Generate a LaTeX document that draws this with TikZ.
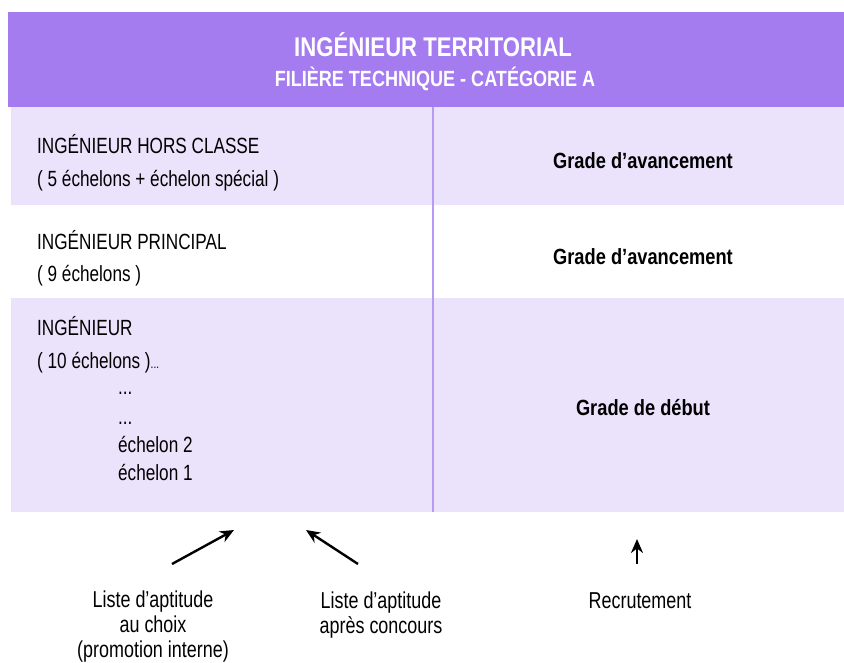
\documentclass[tikz,border=0pt]{standalone}
\usepackage{fontspec}
\setmainfont{Liberation Sans}[FakeStretch=0.78, BoldFeatures={FakeStretch=0.83}]
\newfontfamily\headfont{Liberation Sans}[FakeStretch=0.82]
\usetikzlibrary{arrows.meta}
\definecolor{headviolet}{HTML}{A57BF0}
\definecolor{lavande}{HTML}{EBE3FC}
\definecolor{trait}{HTML}{B99AF2}
\begin{document}
\begin{tikzpicture}[x=1pt, y=-1pt,
    every node/.style={inner sep=0pt, font=\fontsize{22}{32}\selectfont},
    txt/.style={anchor=base west},
    grade/.style={font=\fontsize{22}{32}\selectfont\bfseries},
    lab/.style={anchor=base, align=center, font=\fontsize{23}{25}\selectfont},
    fleche/.style={-{Stealth[length=14pt,width=12pt]}, line width=2.4pt}]
  \useasboundingbox (0,0) rectangle (844,662);
  % bandeau et lignes du tableau
  \fill[headviolet] (8,12) rectangle (844,107);
  \fill[lavande] (11,107) rectangle (844,205);
  \fill[lavande] (11,298) rectangle (844,512);
  \draw[trait, line width=2pt] (433,107) -- (433,512);
  \node[text=white, font=\headfont\fontsize{27}{30}\selectfont\bfseries] (titre) at (433,45) {INGÉNIEUR TERRITORIAL};
  \node[text=white, font=\headfont\fontsize{22}{24}\selectfont\bfseries] (filiere) at (435,79) {FILIÈRE TECHNIQUE - CATÉGORIE A};
  % grades
  \node[txt] (hc) at (37,153) {INGÉNIEUR HORS CLASSE};
  \node[txt] (hcech) at (37,186) {( 5 échelons + échelon spécial )};
  \node[txt] (pr) at (37,249) {INGÉNIEUR PRINCIPAL};
  \node[txt] (prech) at (37,281) {( 9 échelons )};
  \node[txt] (ing) at (37,335) {INGÉNIEUR};
  \node[txt] (ingech) at (37,368) {( 10 échelons )\fontsize{13}{13}\selectfont...};
  \node[txt] (pts1) at (118,394) {...};
  \node[txt] (pts2) at (118,424) {...};
  \node[txt] (ech2) at (118,452) {échelon 2};
  \node[txt] (ech1) at (118,480) {échelon 1};
  \node[grade] (avhc) at (643,161) {Grade d’avancement};
  \node[grade] (avpr) at (643,257) {Grade d’avancement};
  \node[grade] (debut) at (643,408) {Grade de début};
  % voies d'acces
  \node[lab] (choix) at (153,657) {Liste d’aptitude\\au choix\\(promotion interne)};
  \node[lab] (concours) at (381,633) {Liste d’aptitude\\après concours};
  \node[lab] (recru) at (640,608) {Recrutement};
  \coordinate (c1) at (172,564);
  \coordinate (c2) at (234,530);
  \coordinate (c3) at (358,564);
  \coordinate (c4) at (306,530);
  \coordinate (c5) at (637,564);
  \coordinate (c6) at (637,539);
  \draw[fleche] (c1) -- (c2);
  \draw[fleche] (c3) -- (c4);
  \draw[fleche] (c5) -- (c6);
\end{tikzpicture}
\end{document}
